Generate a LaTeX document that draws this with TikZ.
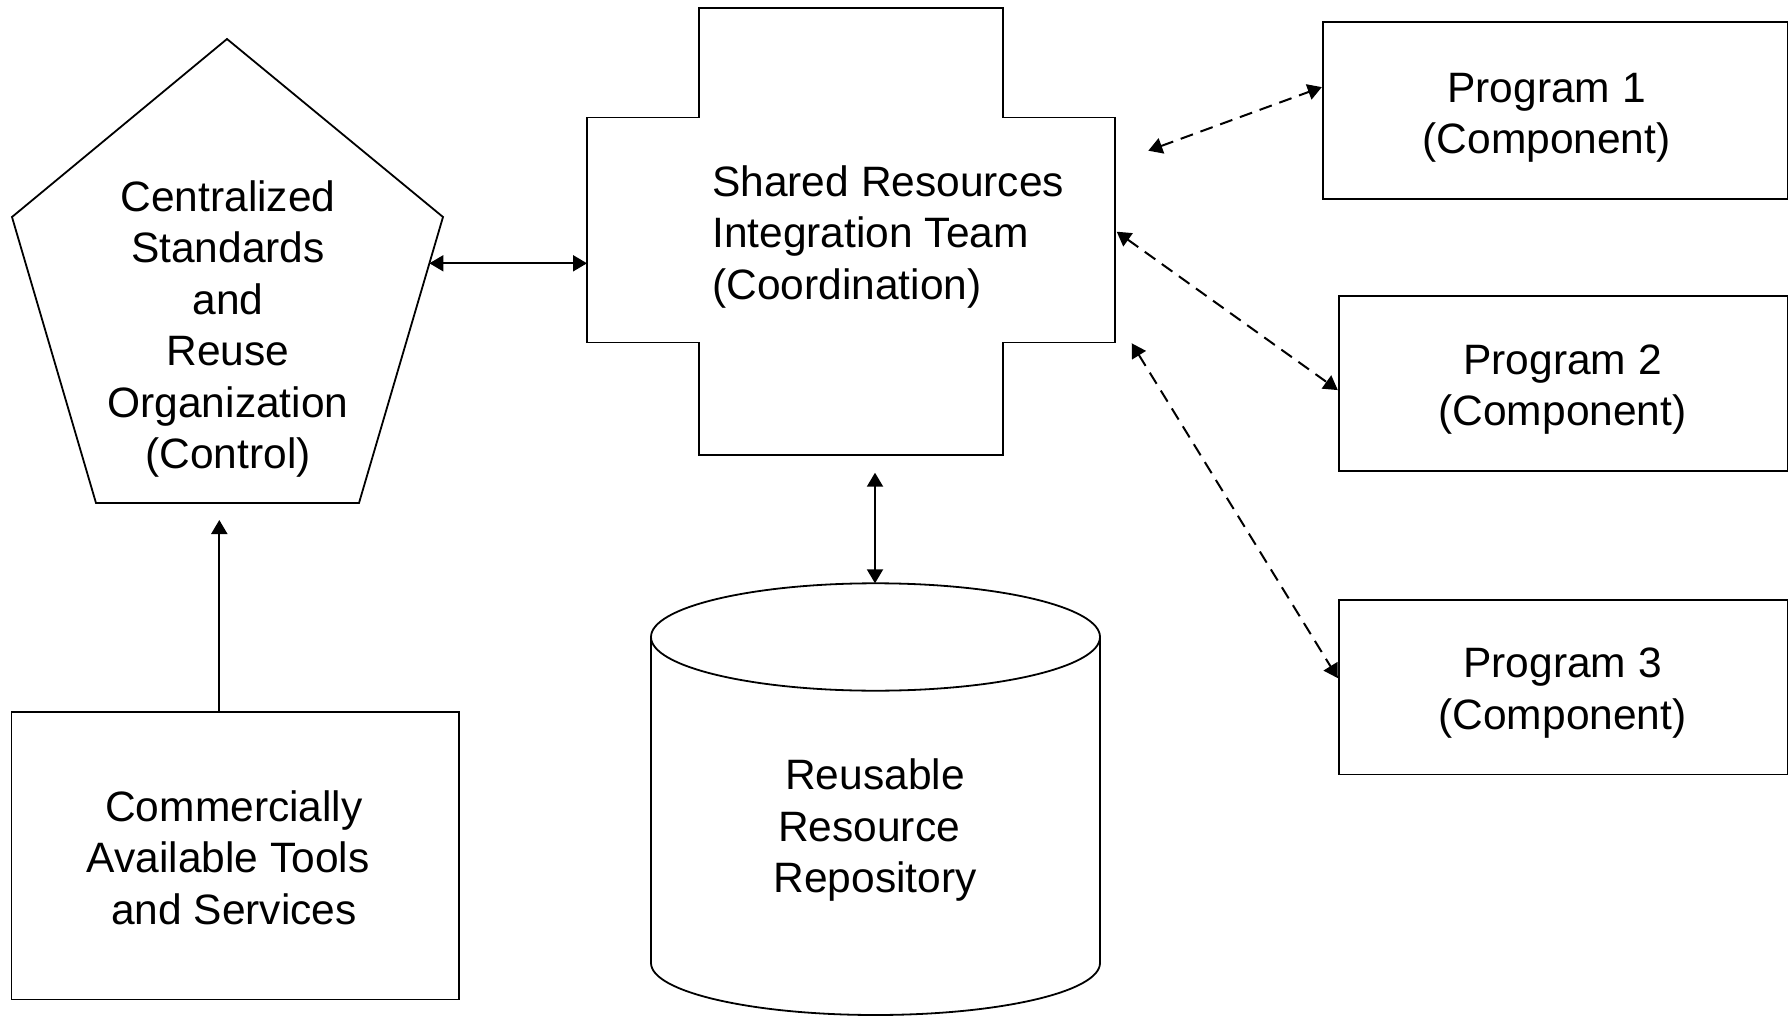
\documentclass[tikz,border=0pt]{standalone}
\usepackage{fontspec}
\setmainfont{Liberation Sans}
\usetikzlibrary{arrows.meta,calc}
\begin{document}
\begin{tikzpicture}[x=1pt,y=-1pt,
  outline/.style={draw=black,line width=1.8pt,line join=miter},
  txt/.style={font=\fontsize{42.5}{51.5}\selectfont,inner sep=0pt,align=center},
  boxnode/.style={outline,inner sep=0pt},
  tip/.tip={Triangle[length=14pt,width=16pt]},
  link/.style={line width=2pt,tip-tip},
  dashlink/.style={link,dash pattern=on 13pt off 8pt},
  uplink/.style={line width=2pt,-tip}]
\useasboundingbox (0,0) rectangle (1791,1016);

% Control organisation (pentagon)
\draw[outline] (227,39) -- (443,217) -- (359,503) -- (96,503) -- (12,217) -- cycle;
\node[txt] (cso) at (228,329) {Centralized\\Standards\\and\\Reuse\\Organization\\(Control)};
\coordinate (csoR) at (429.4,263.3);
\coordinate (csoB) at (219.3,520);

% Coordination team (cross)
\draw[outline] (699,8) -- (1003,8) -- (1003,117.6) -- (1115,117.6) -- (1115,342.5)
  -- (1003,342.5) -- (1003,455) -- (699,455) -- (699,342.5) -- (587,342.5)
  -- (587,117.6) -- (699,117.6) -- cycle;
\node[txt,align=left,anchor=west] (srit) at (712,237) {Shared Resources\\Integration Team\\(Coordination)};
\coordinate (sritL) at (587,263.3);
\coordinate (sritB) at (875,472.7);
\coordinate (sritP1) at (1148.3,150.7);
\coordinate (sritP2) at (1116.7,231.7);
\coordinate (sritP3) at (1131.7,343.3);

% Repository (cylinder)
\draw[outline] (651,637) -- (651,963) arc[start angle=180,end angle=0,x radius=224.5,y radius=52] -- (1100,637);
\draw[outline] (875.5,637) ellipse [x radius=224.5,y radius=53.7];
\coordinate (rrrT) at (875,583.3);
\node[txt] (rrr) at (875,830.5) {Reusable\\Resource\kern0.28em\\Repository};

% Tools and services
\node[boxnode,minimum width=447.8pt,minimum height=287.8pt] (cat) at (235.3,855.5) {};
\node[txt] (catt) at (234,857.5) {Commercially\\Available Tools\kern0.28em\\and Services};

% Programs
\node[boxnode,minimum width=464.8pt,minimum height=177pt] (p1) at (1555.1,110.2) {};
\node[txt] (p1t) at (1546.6,118) {Program 1\\(Component)};
\node[boxnode,minimum width=448.8pt,minimum height=174.8pt] (p2) at (1563.1,383.2) {};
\node[txt] (p2t) at (1562.5,389.5) {Program 2\\(Component)};
\node[boxnode,minimum width=448.8pt,minimum height=174.8pt] (p3) at (1563.1,687) {};
\node[txt] (p3t) at (1562.5,693.3) {Program 3\\(Component)};

% Connectors
\draw[link] (csoR) -- (sritL);
\draw[link] (sritB) -- (rrrT);
\draw[uplink] (cat.north -| csoB) -- (csoB);
\draw[dashlink] (sritP1) -- ($(p1.north west)!0.371!(p1.south west)$);
\draw[dashlink] (sritP2) -- ($(p2.north west)!0.539!(p2.south west)$);
\draw[dashlink] (sritP3) -- ($(p3.north west)!0.45!(p3.south west)$);
\end{tikzpicture}
\end{document}
